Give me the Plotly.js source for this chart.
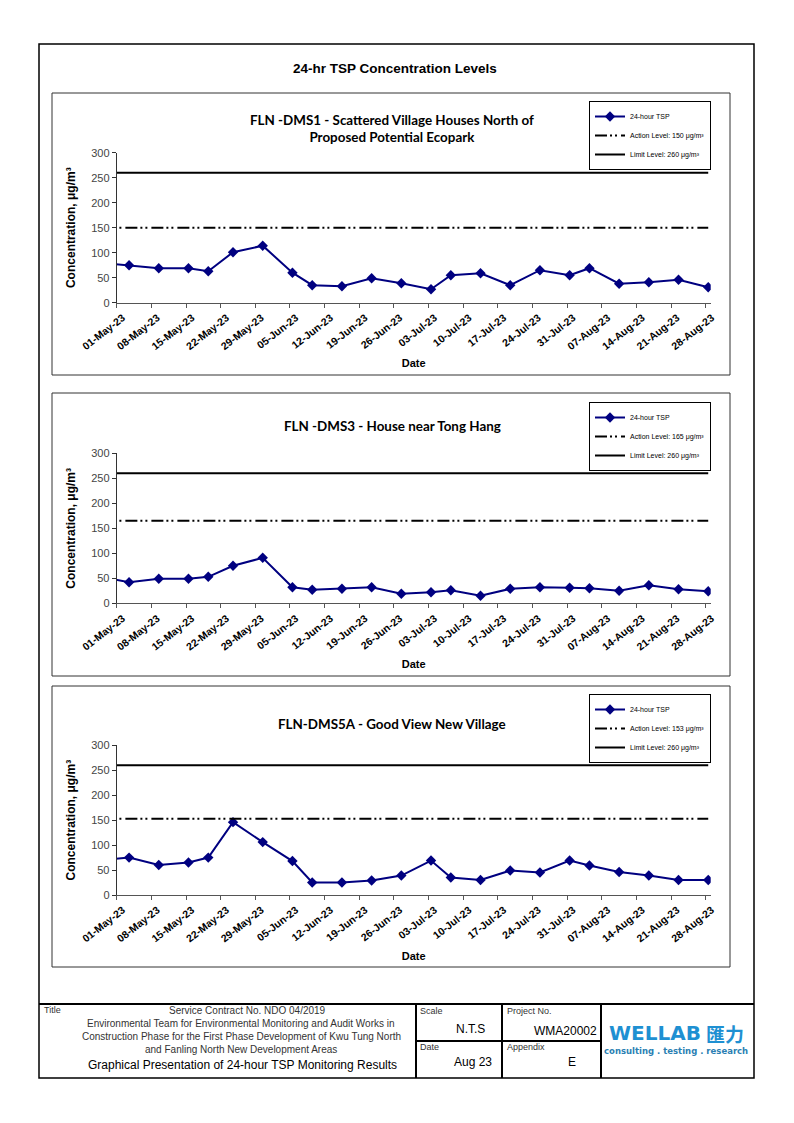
<!DOCTYPE html>
<html><head><meta charset="utf-8">
<script src="https://cdn.plot.ly/plotly-3.0.1.min.js"></script>
<style>html,body{margin:0;padding:0;background:#fff}#chart{width:794px;height:1123px}</style>
</head><body><div id="chart"></div>
<script>
// ---- data ----
const sampleDates = ['2023-04-27','2023-05-03','2023-05-09','2023-05-15','2023-05-19','2023-05-24','2023-05-30',
  '2023-06-05','2023-06-09','2023-06-15','2023-06-21','2023-06-27','2023-07-03','2023-07-07','2023-07-13',
  '2023-07-19','2023-07-25','2023-07-31','2023-08-04','2023-08-10','2023-08-16','2023-08-22','2023-08-28'];
const tspDMS1  = [80, 75, 69, 69, 63, 101, 114, 60, 35, 33, 49, 39, 27, 55, 59, 35, 65, 55, 69, 38, 41, 46, 31];
const tspDMS3  = [54, 42, 49, 49, 53, 75, 91, 32, 27, 29, 32, 19, 22, 26, 15, 29, 32, 31, 30, 25, 36, 28, 24];
const tspDMS5A = [70, 75, 60, 65, 75, 146, 106, 68, 25, 25, 29, 39, 69, 35, 30, 49, 45, 69, 59, 46, 39, 30, 30];
const actionLevels = [150, 165, 153];
const limitLevel = 260;
const stationTitles = [
  'FLN -DMS1 - Scattered Village Houses North of<br>Proposed Potential Ecopark',
  'FLN -DMS3 - House near Tong Hang',
  'FLN-DMS5A - Good View New Village'
];
const yTicks = [0, 50, 100, 150, 200, 250, 300];
const axisStart = '2023-05-01', axisEnd = '2023-08-29';

// ---- layout helpers ----
const W = 794, H = 1123;
const px = v => v / W, py = v => 1 - v / H;
const series = [tspDMS1, tspDMS3, tspDMS5A];
const plotDates = sampleDates.map(d => d + ' 12:00');
const panels = [
  {top: 152.7, bottom: 302.7, box: [93, 375], titleY: 129, legTop: 101},
  {top: 453.3, bottom: 603.3, box: [393, 676], titleY: 426, legTop: 402},
  {top: 745.3, bottom: 895.0, box: [686, 967], titleY: 724, legTop: 694}
];
const AR = 'Arial, "Liberation Sans", sans-serif';
const traces = [];
const layout = {
  width: W, height: H, margin: {l:0, r:0, t:0, b:0},
  paper_bgcolor: '#fff', plot_bgcolor: 'rgba(0,0,0,0)',
  font: {family: AR, color: '#000'},
  shapes: [], annotations: []
};
panels.forEach((p, i) => {
  const s = i === 0 ? '' : String(i + 1);
  const leg = 'legend' + s;
  traces.push({
    x: plotDates, y: series[i], type: 'scatter', mode: 'lines+markers', name: '24-hour TSP',
    line: {color: '#000080', width: 2}, marker: {symbol: 'diamond', size: 8, color: '#000080'},
    xaxis: 'x' + s, yaxis: 'y' + s, legend: leg, cliponaxis: true
  });
  traces.push({
    x: [plotDates[0], plotDates[plotDates.length - 1]], y: [actionLevels[i], actionLevels[i]],
    type: 'scatter', mode: 'lines', name: 'Action Level: ' + actionLevels[i] + ' μg/m³',
    line: {color: '#000', width: 2, dash: '12px,3px,2px,3px,2px,4px'},
    xaxis: 'x' + s, yaxis: 'y' + s, legend: leg
  });
  traces.push({
    x: [plotDates[0], plotDates[plotDates.length - 1]], y: [limitLevel, limitLevel],
    type: 'scatter', mode: 'lines', name: 'Limit Level: ' + limitLevel + ' μg/m³',
    line: {color: '#000', width: 2},
    xaxis: 'x' + s, yaxis: 'y' + s, legend: leg
  });
  layout['xaxis' + s] = {
    domain: [px(116.7), px(710.7)], anchor: 'y' + s, type: 'date',
    range: [axisStart, axisEnd], tick0: axisStart, dtick: 7 * 86400000, tickformat: '%d-%b-%y',
    tickangle: -38, ticklabelshift: 6,
    tickfont: {family: AR, size: 10.5, color: '#000', weight: 'bold'},
    showline: true, linecolor: '#555', linewidth: 1, ticks: 'outside', ticklen: 4, tickcolor: '#555',
    showgrid: false, zeroline: false, fixedrange: true,
    title: {text: 'Date', font: {family: AR, size: 11, weight: 'bold', color: '#000'}, standoff: 8}
  };
  layout['yaxis' + s] = {
    domain: [py(p.bottom), py(p.top)], anchor: 'x' + s, range: [0, 300],
    tickvals: yTicks, tickfont: {family: AR, size: 11, color: '#444'},
    showline: true, linecolor: '#333', linewidth: 1, ticks: 'outside', ticklen: 4, tickcolor: '#333',
    showgrid: false, zeroline: false, fixedrange: true,
    title: {text: 'Concentration, μg/m³', font: {family: AR, size: 12, weight: 'bold', color: '#000'}, standoff: 12}
  };
  layout[leg] = {
    x: px(589), y: py(p.legTop), xanchor: 'left', yanchor: 'top',
    bgcolor: '#fff', bordercolor: '#000', borderwidth: 1,
    font: {family: AR, size: 7, color: '#000'}, itemwidth: 30, tracegroupgap: 0
  };
  layout.shapes.push({type: 'rect', xref: 'paper', yref: 'paper', x0: px(52), x1: px(730),
    y0: py(p.box[1]), y1: py(p.box[0]), line: {color: '#333', width: 1}, layer: 'below'});
  layout.annotations.push({xref: 'paper', yref: 'paper', x: px(392), y: py(p.titleY),
    xanchor: 'center', yanchor: 'middle', showarrow: false, text: '<b>' + stationTitles[i] + '</b>',
    font: {family: 'Lato, "Open Sans", sans-serif', size: 13.4, color: '#000'}, align: 'center'});
});
layout.showlegend = true;

// page frame and footer table
const line = (x0, y0, x1, y1, w) => ({type: 'line', xref: 'paper', yref: 'paper',
  x0: px(x0), y0: py(y0), x1: px(x1), y1: py(y1), line: {color: '#000', width: w}});
layout.shapes.push({type: 'rect', xref: 'paper', yref: 'paper', x0: px(39), x1: px(754),
  y0: py(1078), y1: py(44), line: {color: '#000', width: 1.5}});
layout.shapes.push(line(39, 1004, 754, 1004, 2));
layout.shapes.push(line(416, 1004, 416, 1078, 2));
layout.shapes.push(line(502, 1004, 502, 1078, 2));
layout.shapes.push(line(601, 1004, 601, 1078, 2));
layout.shapes.push(line(416, 1041, 601, 1041, 2));

const ann = (x, y, text, size, opts = {}) => Object.assign({xref: 'paper', yref: 'paper',
  x: px(x), y: py(y), text, showarrow: false, xanchor: 'center', yanchor: 'middle',
  font: {family: AR, size, color: '#000'}}, opts);
const grey = size => ({font: {family: AR, size, color: '#333'}});
layout.annotations.push(ann(395, 69, '<b>24-hr TSP Concentration Levels</b>', 13.5));
layout.annotations.push(ann(42, 1010, 'Title', 9, Object.assign({xanchor: 'left'}, grey(9))));
layout.annotations.push(ann(247, 1010, 'Service Contract No. NDO 04/2019', 10, grey(10)));
layout.annotations.push(ann(241, 1023, 'Environmental Team for Environmental Monitoring and Audit Works in', 10, grey(10)));
layout.annotations.push(ann(241, 1036, 'Construction Phase for the First Phase Development of Kwu Tung North', 10, grey(10)));
layout.annotations.push(ann(241, 1049, 'and Fanling North New Development Areas', 10, grey(10)));
layout.annotations.push(ann(242, 1065, 'Graphical Presentation of 24-hour TSP Monitoring Results', 12));
layout.annotations.push(ann(418, 1011, 'Scale', 9, Object.assign({xanchor: 'left'}, grey(9))));
layout.annotations.push(ann(470, 1029, 'N.T.S', 12));
layout.annotations.push(ann(418, 1047, 'Date', 9, Object.assign({xanchor: 'left'}, grey(9))));
layout.annotations.push(ann(473, 1062, 'Aug 23', 12));
layout.annotations.push(ann(505, 1011, 'Project No.', 9, Object.assign({xanchor: 'left'}, grey(9))));
layout.annotations.push(ann(599, 1031, 'WMA20002', 12, {xanchor: 'right'}));
layout.annotations.push(ann(505, 1047, 'Appendix', 9, Object.assign({xanchor: 'left'}, grey(9))));
layout.annotations.push(ann(572, 1062, 'E', 12));
layout.annotations.push(ann(607, 1033, '<b>WELLAB</b>', 20, {xanchor: 'left', font: {family: '"DejaVu Sans", sans-serif', size: 20, color: '#1e90d2'}}));
layout.annotations.push(ann(725, 1033, '<b>匯力</b>', 19, {font: {family: '"Noto Sans CJK TC", sans-serif', size: 19, color: '#1e90d2'}}));
layout.annotations.push(ann(676, 1051, '<b>consulting . testing . research</b>', 9, {font: {family: '"DejaVu Sans", sans-serif', size: 8.5, color: '#2b7fb3'}}));

Plotly.newPlot('chart', traces, layout, {staticPlot: true, displayModeBar: false});
</script></body></html>
